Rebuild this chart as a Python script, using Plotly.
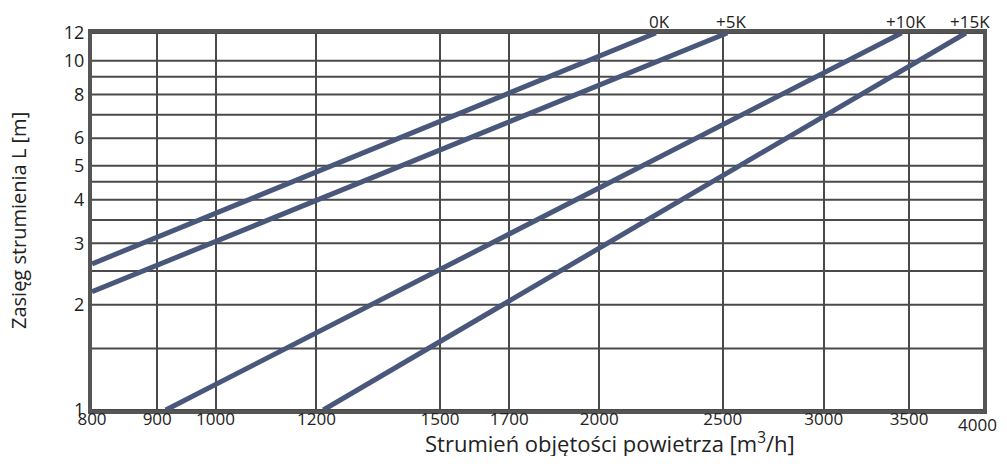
import math
import plotly.graph_objects as go

# Data
series_names = ["0K", "+5K", "+10K", "+15K"]
flow_start = [800, 800, 914, 1215]
flow_end = [2215, 2520, 3453, 3878]
range_start = [2.62, 2.18, 1.0, 1.0]
range_end = [12.0, 12.0, 12.0, 12.0]

x_ticks = [800, 900, 1000, 1200, 1500, 1700, 2000, 2500, 3000, 3500, 4000]
y_ticks = [1, 2, 3, 4, 5, 6, 8, 10, 12]
y_grid = [1, 1.5, 2, 2.5, 3, 3.5, 4, 4.5, 5, 6, 7, 8, 9, 10, 12]

line_color = "#48577a"
grid_color = "#4a4a4a"
text_color = "#222222"
font_family = "Open Sans"

# The page body keeps its default 8px margin, so the figure starts at (8, 8)
OFF = 8
W, H = 991, 448
ML, MR, MT, MB = 84, 16, 19, 46
plot_w = W - ML - MR
plot_h = H - MT - MB


def px_to_paper(sx, sy):
    """screen pixel -> paper coordinates"""
    fx, fy = sx - OFF, sy - OFF
    return (fx - ML) / plot_w, (H - MB - fy) / plot_h


fig = go.Figure()

for name, x0, x1, y0, y1 in zip(series_names, flow_start, flow_end, range_start, range_end):
    fig.add_trace(go.Scatter(
        x=[x0, x1], y=[y0, y1], mode="lines", name=name,
        line=dict(color=line_color, width=5), showlegend=False,
        hoverinfo="skip",
    ))
    fig.add_annotation(
        x=math.log10(x1), y=1.0, xref="x", yref="paper", text=name, showarrow=False,
        yanchor="bottom", xanchor="center", yshift=-2, xshift=4,
        font=dict(family=font_family, size=17, color=text_color),
    )

for gv in y_grid:
    fig.add_shape(type="line", xref="paper", yref="y", x0=0, x1=1, y0=gv, y1=gv,
                  line=dict(color=grid_color, width=2), layer="below")

# the last x tick label sits at the very edge of the page: draw it right-aligned
# at its axis position so it stays inside the figure
x_ticktext = [str(v) for v in x_ticks[:-1]] + [""]

eps = 1e-5
fig.update_layout(
    width=W, height=H,
    margin=dict(l=ML, r=MR, t=MT, b=MB),
    paper_bgcolor="white", plot_bgcolor="white",
    font=dict(family=font_family, size=17, color=text_color),
    xaxis=dict(
        type="log", range=[math.log10(800) - eps, math.log10(4000) + eps],
        tickvals=x_ticks, ticktext=x_ticktext,
        showgrid=True, gridcolor=grid_color, gridwidth=2,
        showline=True, linecolor="#555555", linewidth=4, mirror=True,
        ticks="", ticklen=0, zeroline=False, tickfont=dict(size=17),
        ticklabelstandoff=-9,
    ),
    yaxis=dict(
        type="log", range=[0 - eps, math.log10(12) + eps],
        tickvals=y_ticks, ticktext=[str(v) for v in y_ticks],
        showgrid=False,
        showline=True, linecolor="#555555", linewidth=4, mirror=True,
        ticks="", ticklen=0, zeroline=False, tickfont=dict(size=18),
    ),
)

fig.add_annotation(
    x=math.log10(x_ticks[-1]), y=0, xref="x", yref="paper", showarrow=False,
    text=str(x_ticks[-1]), xanchor="right", yanchor="top", xshift=16, yshift=-1,
    font=dict(family=font_family, size=17, color=text_color),
)

tx, ty = px_to_paper(18, 218)
fig.add_annotation(
    x=tx, y=ty, xref="paper", yref="paper", showarrow=False, textangle=-90,
    xanchor="center", yanchor="middle",
    text="Zasięg strumienia L [m]",
    font=dict(family=font_family, size=20, color=text_color),
)

tx, ty = px_to_paper(610, 443)
fig.add_annotation(
    x=tx, y=ty, xref="paper", yref="paper", showarrow=False,
    xanchor="center", yanchor="middle",
    text="Strumień objętości powietrza [m<sup>3</sup>/h]",
    font=dict(family=font_family, size=22, color=text_color),
)

fig.write_html("out.html", config={"displayModeBar": False})
